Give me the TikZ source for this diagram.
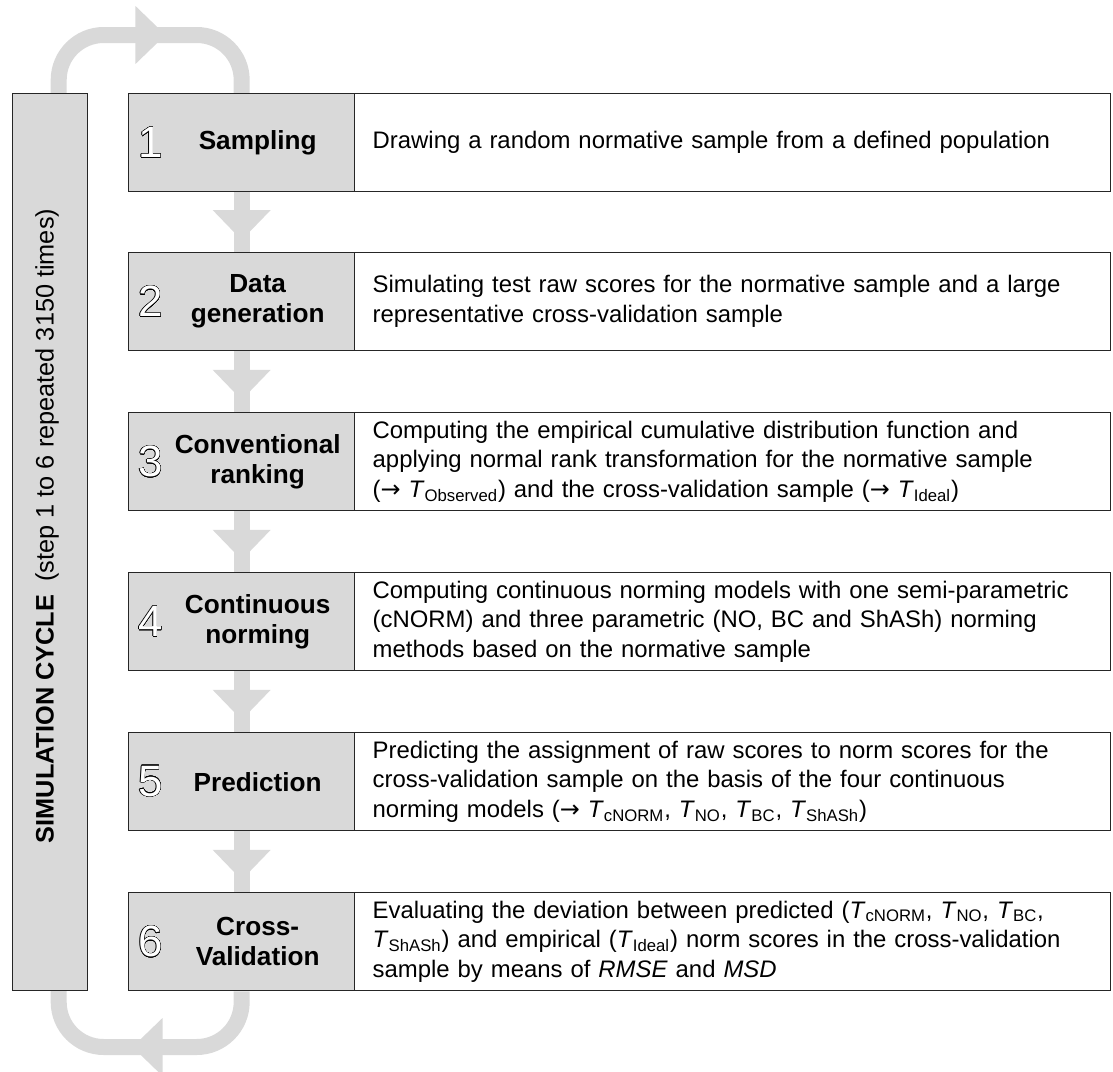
\documentclass[tikz,border=0pt]{standalone}
\usepackage{fontspec}
\setmainfont{Liberation Sans}
\newfontfamily\arrowfont{DejaVu Sans}
\usepackage{contour}
\usetikzlibrary{arrows.meta}
\usetikzlibrary{decorations.markings}
\usetikzlibrary{backgrounds}
\definecolor{boxgray}{RGB}{217,217,217}
\definecolor{loopgray}{RGB}{217,217,217}
\definecolor{edgegray}{RGB}{38,38,38}
\contourlength{0.28pt}
\contournumber{32}
\newcommand{\stepnum}[1]{\contour{black}{\textcolor{white}{#1}}}
\newcommand{\Tsub}[1]{\textit{T}\textsubscript{#1}}
\newcommand{\toarrow}{{\arrowfont →}}
\tikzstyle{stepbox}=[draw=edgegray, line width=0.8pt, fill=boxgray, anchor=north west, minimum width=4.52cm, minimum height=1.96cm, inner sep=0pt]
\tikzstyle{descbox}=[draw=edgegray, line width=0.8pt, fill=white, anchor=north west, minimum width=15.12cm, minimum height=1.96cm, inner xsep=0.36cm, inner ysep=0pt, text width=14.4cm, align=left, font=\fontsize{13.6}{17}\selectfont]
\tikzstyle{steptitle}=[align=center, font=\fontsize{14.9}{17}\selectfont\bfseries]
\tikzstyle{stepdigit}=[font=\fontsize{25}{25}\selectfont]
\tikzstyle{flowline}=[draw=loopgray, line width=0.32cm]
\tikzstyle{flowtip}=[postaction={decorate}, decoration={markings, mark=at position 0.8 with {\arrow[loopgray]{Triangle[width=1.16cm, length=0.6cm, line width=0pt]}}}]
\tikzstyle{looptip}=[postaction={decorate}, decoration={markings, mark=at position 2.91cm with {\arrow[loopgray]{Triangle[width=1.16cm, length=0.6cm, line width=0pt]}}}]

\begin{document}
\begin{tikzpicture}[x=0.02cm, y=-0.02cm]
  \useasboundingbox (0,0) rectangle (1113,1072);
  \node[stepbox, minimum width=1.5cm, minimum height=17.94cm] (cycle) at (12,93) {};
  \node[rotate=90, font=\fontsize{14.4}{16}\selectfont] (cyclelabel) at (47,526) {\textbf{SIMULATION CYCLE}\hspace{0.25em} (step 1 to 6 repeated 3150 times)};

  \node[stepbox] (step1) at (128,93) {};
  \node[descbox] (desc1) at (354,93) {Drawing a random normative sample from a defined population};
  \node[stepdigit] (num1) at ([xshift=-1.82cm]step1.center) {\stepnum{1}};
  \node[steptitle] (title1) at ([xshift=0.32cm]step1.center) {Sampling};

  \node[stepbox] (step2) at (128,252) {};
  \node[descbox] (desc2) at (354,252) {Simulating test raw scores for the normative sample and a large\\ representative cross-validation sample};
  \node[stepdigit] (num2) at ([xshift=-1.82cm]step2.center) {\stepnum{2}};
  \node[steptitle] (title2) at ([xshift=0.32cm]step2.center) {Data\\ generation};

  \node[stepbox] (step3) at (128,412) {};
  \node[descbox] (desc3) at (354,412) {Computing the empirical cumulative distribution function and\\ applying normal rank transformation for the normative sample\\ (\toarrow\ \Tsub{Observed}) and the cross-validation sample (\toarrow\ \Tsub{Ideal})};
  \node[stepdigit] (num3) at ([xshift=-1.82cm]step3.center) {\stepnum{3}};
  \node[steptitle] (title3) at ([xshift=0.32cm]step3.center) {Conventional\\ ranking};

  \node[stepbox] (step4) at (128,572) {};
  \node[descbox] (desc4) at (354,572) {Computing continuous norming models with one semi-parametric\\ (cNORM) and three parametric (NO, BC and ShASh) norming\\ methods based on the normative sample};
  \node[stepdigit] (num4) at ([xshift=-1.82cm]step4.center) {\stepnum{4}};
  \node[steptitle] (title4) at ([xshift=0.32cm]step4.center) {Continuous\\ norming};

  \node[stepbox] (step5) at (128,732) {};
  \node[descbox] (desc5) at (354,732) {Predicting the assignment of raw scores to norm scores for the\\ cross-validation sample on the basis of the four continuous\\ norming models (\toarrow\ \Tsub{cNORM}, \Tsub{NO}, \Tsub{BC}, \Tsub{ShASh})};
  \node[stepdigit] (num5) at ([xshift=-1.82cm]step5.center) {\stepnum{5}};
  \node[steptitle] (title5) at ([xshift=0.32cm]step5.center) {Prediction};

  \node[stepbox] (step6) at (128,892) {};
  \node[descbox] (desc6) at (354,892) {Evaluating the deviation between predicted (\Tsub{cNORM}, \Tsub{NO}, \Tsub{BC},\\ \Tsub{ShASh}) and empirical (\Tsub{Ideal}) norm scores in the cross-validation\\ sample by means of \textit{RMSE} and \textit{MSD}};
  \node[stepdigit] (num6) at ([xshift=-1.82cm]step6.center) {\stepnum{6}};
  \node[steptitle] (title6) at ([xshift=0.32cm]step6.center) {Cross-\\ Validation};

  \coordinate (toploop) at (150,35);
  \coordinate (botloop) at (150,1047);
  \begin{scope}[on background layer]
    \draw[flowline, flowtip] (step1.south) -- (step2.north);
    \draw[flowline, flowtip] (step2.south) -- (step3.north);
    \draw[flowline, flowtip] (step3.south) -- (step4.north);
    \draw[flowline, flowtip] (step4.south) -- (step5.north);
    \draw[flowline, flowtip] (step5.south) -- (step6.north);
    \draw[flowline, looptip, rounded corners=0.9cm] ([xshift=0.17cm]cycle.north) |- (toploop) -| (step1.north);
    \draw[flowline, looptip, rounded corners=0.9cm] (step6.south) |- (botloop) -| ([xshift=0.17cm]cycle.south);
  \end{scope}
\end{tikzpicture}
\end{document}
